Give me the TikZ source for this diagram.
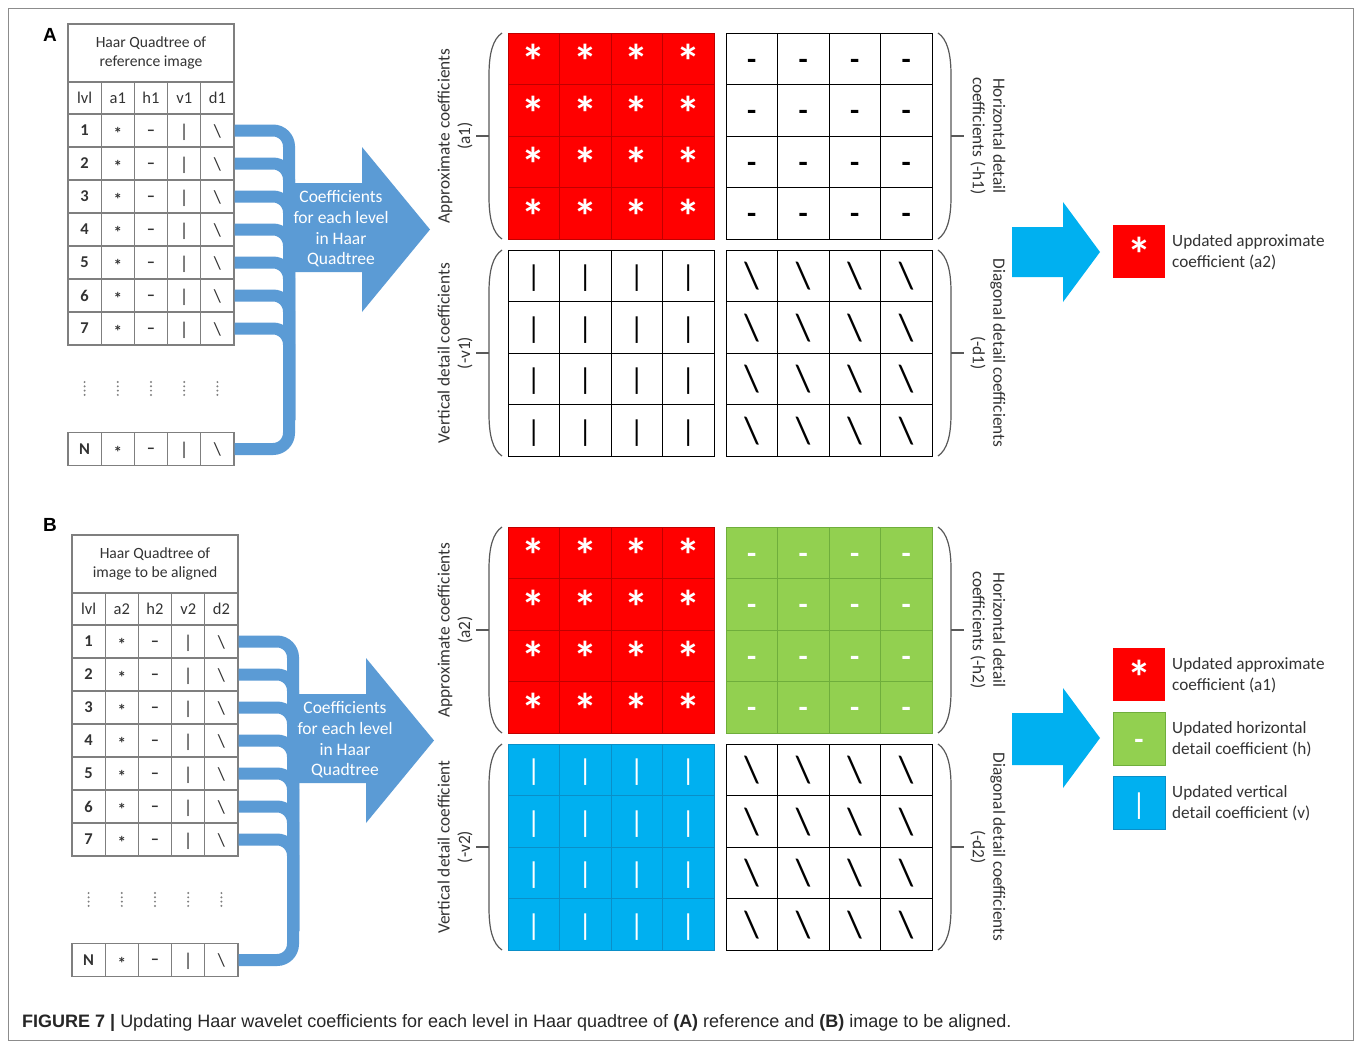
\documentclass[tikz,border=0pt]{standalone}
\usepackage{fontspec}
\setmainfont{Carlito}
\newfontfamily\capfont{Liberation Sans}
\newfontfamily\panelfont{Liberation Sans}

\definecolor{busblue}{HTML}{5B9BD5}
\definecolor{cyanblue}{HTML}{00B0F0}
\definecolor{redfill}{HTML}{FF0000}
\definecolor{redline}{HTML}{C00000}
\definecolor{greenfill}{HTML}{92D050}
\definecolor{greenline}{HTML}{6FAE3C}
\definecolor{blueline}{HTML}{0A8FC8}
\definecolor{tablegray}{HTML}{7F7F7F}
\definecolor{inktext}{HTML}{333333}
\definecolor{bracegray}{HTML}{595959}
\definecolor{framegray}{HTML}{8C8C8C}

\tikzset{
  tcell/.style={draw=tablegray, line width=1.2, inner sep=0, minimum width=33.2,
    minimum height=33, text=inktext, font=\fontsize{16.5}{19}\selectfont},
  tsym/.style={tcell, text height=0pt, text depth=0pt},
  bus/.style={draw=busblue, line width=12, rounded corners=16},
  gcell/.style={inner sep=0, minimum size=51.5, line width=1, text height=0pt, text depth=0pt},
  redcell/.style={gcell, fill=redfill, draw=redline, text=white},
  whitecell/.style={gcell, fill=white, draw=black, text=black},
  greencell/.style={gcell, fill=greenfill, draw=greenline, text=white},
  bluecell/.style={gcell, fill=cyanblue, draw=blueline, text=white},
  brace/.style={draw=bracegray, line width=1.2},
  sidelabel/.style={align=center, text=inktext, font=\fontsize{17.3}{20.5}\selectfont, inner sep=0},
  arrowtext/.style={align=center, text=white, font=\fontsize{17.5}{20.7}\selectfont, inner sep=0},
  legtext/.style={align=left, anchor=west, text=inktext, font=\fontsize{17.2}{21}\selectfont, inner sep=0},
  legbox/.style={minimum width=52, minimum height=53, inner sep=0, line width=1, text height=0pt, text depth=0pt},
  panel/.style={font=\panelfont\bfseries\fontsize{19}{19}\selectfont, inner sep=0},
}

% cell symbols, raised so that they sit like in a text line
\newcommand\astsym{\raisebox{-20pt}{\fontsize{48}{48}\selectfont\bfseries *}}
\newcommand\dashsym{\raisebox{-10.5pt}{\fontsize{30}{30}\selectfont\bfseries -}}
\newcommand\barsym{\raisebox{-11pt}{\fontsize{30}{30}\selectfont |}}
\newcommand\bslsym{\raisebox{-13pt}{\fontsize{38}{38}\selectfont \textbackslash}}
\newcommand\tast{\raisebox{-9pt}{\fontsize{17}{17}\selectfont\bfseries *}}
\newcommand\tdash{\raisebox{-4.5pt}{\fontsize{16.5}{16.5}\selectfont\bfseries –}}
\newcommand\tbar{\raisebox{-6.5pt}{\fontsize{18.5}{18.5}\selectfont |}}
\newcommand\tbsl{\raisebox{-6.5pt}{\fontsize{18.5}{18.5}\selectfont \textbackslash}}

% one Haar quadtree table with its bus lines and the wide arrow
% #1 name prefix, #2/#3 title lines, #4 coefficient index
\newcommand\haartable[4]{%
  \node[tcell, minimum width=166, minimum height=58, align=center,
        font=\fontsize{15.6}{19}\selectfont] (#1-title) at (151,53) {#2\\#3};
  \node[tcell] (#1-hl) at (84.6,98) [minimum height=32] {lvl};
  \node[tcell] (#1-ha) at (117.8,98) [minimum height=32] {a#4};
  \node[tcell] (#1-hh) at (151,98) [minimum height=32] {h#4};
  \node[tcell] (#1-hv) at (184.2,98) [minimum height=32] {v#4};
  \node[tcell] (#1-hd) at (217.4,98) [minimum height=32] {d#4};
  \foreach \i/\yy in {1/130.5,2/163.5,3/196.5,4/229.5,5/262.5,6/295.5,7/328.5,N/449}{
    \node[tcell, font=\bfseries\fontsize{16.5}{19}\selectfont] (#1-l-\i) at (84.6,\yy) {\i};
    \node[tsym] (#1-a-\i) at (117.8,\yy) {\tast};
    \node[tsym] (#1-h-\i) at (151,\yy) {\tdash};
    \node[tsym] (#1-v-\i) at (184.2,\yy) {\tbar};
    \node[tsym] (#1-d-\i) at (217.4,\yy) {\tbsl};
  }
  \foreach \x in {84.6,117.8,151,184.2,217.4}
    \foreach \y in {382,386.3,390.6,394.9}
      \fill[tablegray] (\x,\y) circle (1.1);
  \coordinate (#1-tb) at (289,449);
  \coordinate (#1-tm) at (289,420);
  \draw[bus] (#1-d-1.east) -| (#1-tb) -- (#1-d-N.east);
  \foreach \i in {2,...,7}
    \draw[bus] (#1-d-\i.east) -| (#1-tm);
  \fill[busblue] (288,183) -- (362,183) -- (362,147) -- (430,229.5)
    -- (362,312) -- (362,272) -- (288,272) -- cycle;
  \node[arrowtext] (#1-arrowlabel) at (341,229)
    {Coefficients\\for each level\\in Haar\\Quadtree};
}

% 4x4 block of coefficient cells: #1 name, #2 x0, #3 y0, #4 cell style, #5 symbol
\newcommand\quadgrid[5]{%
  \foreach \r in {0,...,3}
    \foreach \c in {0,...,3}
      \node[#4] (#1-\r\c) at (#2+25.75+51.5*\c, #3+25.75+51.5*\r) {#5};
}
% bracket on the left of a block (#1 x0, #2 y0) and on the right (#1 x1, #2 y0)
\newcommand\leftbracket[2]{%
  \draw[brace] (#1-6,#2) .. controls (#1-15,#2+6) and (#1-19,#2+20) .. (#1-19,#2+42)
    -- (#1-19,#2+164) .. controls (#1-19,#2+186) and (#1-15,#2+200) .. (#1-6,#2+206);
  \draw[brace] (#1-19,#2+103) -- (#1-32,#2+103);
}
\newcommand\rightbracket[2]{%
  \draw[brace] (#1+6,#2) .. controls (#1+15,#2+6) and (#1+19,#2+20) .. (#1+19,#2+42)
    -- (#1+19,#2+164) .. controls (#1+19,#2+186) and (#1+15,#2+200) .. (#1+6,#2+206);
  \draw[brace] (#1+19,#2+103) -- (#1+32,#2+103);
}

\begin{document}
\begin{tikzpicture}[x=1pt, y=-1pt]
\useasboundingbox (0,0) rectangle (1360,1045);
\fill[white] (0,0) rectangle (1360,1045);
\draw[framegray, line width=1] (8,8) rectangle (1353,1040);

% ---------------- panel A ----------------
\node[panel] (labA) at (50,35) {A};
\begin{scope}[name prefix=A]
  \haartable{}{Haar Quadtree of}{reference image}{1}
\end{scope}

\quadgrid{Aa}{508}{33}{redcell}{\astsym}
\quadgrid{Ah}{726}{33}{whitecell}{\dashsym}
\quadgrid{Av}{508}{250}{whitecell}{\barsym}
\quadgrid{Ad}{726}{250}{whitecell}{\bslsym}
\leftbracket{508}{33}
\leftbracket{508}{250}
\rightbracket{932}{33}
\rightbracket{932}{250}
\node[sidelabel, rotate=90] (Aal) at (455,136) {Approximate coefficients\\(a1)};
\node[sidelabel, rotate=90] (Avl) at (455,353) {Vertical detail coefficients\\(-v1)};
\node[sidelabel, rotate=-90] (Ahl) at (988,136) {Horizontal detail\\coefficients (-h1)};
\node[sidelabel, rotate=-90] (Adl) at (988,353) {Diagonal detail coefficients\\(-d1)};

\fill[cyanblue] (1012,227) -- (1063,227) -- (1063,202) -- (1100,252)
  -- (1063,302) -- (1063,277) -- (1012,277) -- cycle;
\node[legbox, fill=redfill, text=white] (Akey) at (1139,251.5) {\astsym};
\node[legtext] (Akeytext) at (1172,252) {Updated approximate\\coefficient (a2)};

% ---------------- panel B ----------------
\node[panel] (labB) at (50,525) {B};
\begin{scope}[shift={(4,511)}, name prefix=B]
  \haartable{}{Haar Quadtree of}{image to be aligned}{2}
\end{scope}

\quadgrid{Ba}{508}{527}{redcell}{\astsym}
\quadgrid{Bh}{726}{527}{greencell}{\dashsym}
\quadgrid{Bv}{508}{744}{bluecell}{\barsym}
\quadgrid{Bd}{726}{744}{whitecell}{\bslsym}
\leftbracket{508}{527}
\leftbracket{508}{744}
\rightbracket{932}{527}
\rightbracket{932}{744}
\node[sidelabel, rotate=90] (Bal) at (455,630) {Approximate coefficients\\(a2)};
\node[sidelabel, rotate=90] (Bvl) at (455,847) {Vertical detail coefficient\\(-v2)};
\node[sidelabel, rotate=-90] (Bhl) at (988,630) {Horizontal detail\\coefficients (-h2)};
\node[sidelabel, rotate=-90] (Bdl) at (988,847) {Diagonal detail coefficients\\(-d2)};

\fill[cyanblue] (1012,713) -- (1063,713) -- (1063,688) -- (1100,738)
  -- (1063,788) -- (1063,765) -- (1012,765) -- cycle;
\node[legbox, fill=redfill, text=white] (Bkey1) at (1139,674.5) {\astsym};
\node[legtext] (Bkey1text) at (1172,675) {Updated approximate\\coefficient (a1)};
\node[legbox, fill=greenfill, draw=greenline, text=white] (Bkey2) at (1139,739) {\dashsym};
\node[legtext] (Bkey2text) at (1172,739) {Updated horizontal\\detail coefficient (h)};
\node[legbox, fill=cyanblue, draw=blueline, text=white] (Bkey3) at (1139,803) {\barsym};
\node[legtext] (Bkey3text) at (1172,803) {Updated vertical\\detail coefficient (v)};

% ---------------- caption ----------------
\node[anchor=west, inner sep=0, text=black!85, font=\capfont\fontsize{18}{20}\selectfont]
  (caption) at (22,1023) {\textbf{FIGURE 7 |} Updating Haar wavelet coefficients for each level in Haar quadtree of \textbf{(A)} reference and \textbf{(B)} image to be aligned.};
\end{tikzpicture}
\end{document}
